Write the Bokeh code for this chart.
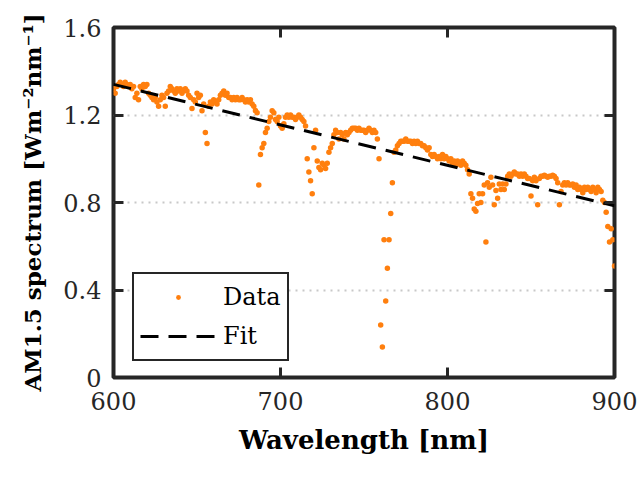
from bokeh.plotting import figure
from bokeh.models import LinearAxis, Range1d, FixedTicker, Legend, LegendItem, ColumnDataSource
from bokeh.embed import file_html
from bokeh.resources import INLINE

wavelength = list(range(600, 901))
spectrum = [
    1.32, 1.30, 1.33, 1.34, 1.35, 1.34, 1.33, 1.35, 1.34, 1.33,
    1.34, 1.32, 1.33, 1.28, 1.30, 1.27, 1.33, 1.32, 1.34, 1.33,
    1.34, 1.30, 1.29, 1.28, 1.27, 1.28, 1.26, 1.24, 1.27, 1.29,
    1.28, 1.24, 1.30, 1.31, 1.33, 1.32, 1.31, 1.30, 1.32, 1.31,
    1.32, 1.30, 1.31, 1.32, 1.31, 1.29, 1.28, 1.23, 1.27, 1.26,
    1.30, 1.28, 1.29, 1.22, 1.25, 1.12, 1.07, 1.24, 1.26, 1.25,
    1.27, 1.26, 1.25, 1.27, 1.29, 1.30, 1.31, 1.29, 1.30, 1.28,
    1.28, 1.27, 1.28, 1.27, 1.28, 1.27, 1.27, 1.28, 1.27, 1.26,
    1.27, 1.26, 1.27, 1.25, 1.24, 1.22, 1.21, 0.88, 1.02, 1.05,
    1.07, 1.12, 1.14, 1.17, 1.19, 1.22, 1.21, 1.18, 1.17, 1.19,
    1.15, 1.14, 1.16, 1.19, 1.20, 1.19, 1.20, 1.19, 1.19, 1.18,
    1.19, 1.20, 1.19, 1.18, 1.17, 1.15, 1.00, 0.94, 0.90, 0.84,
    1.05, 1.13, 0.99, 0.96, 0.95, 0.98, 0.97, 0.955, 0.98, 1.03,
    1.05, 1.07, 1.11, 1.13, 1.12, 1.09, 1.12, 1.11, 1.09, 1.12,
    1.11, 1.12, 1.13, 1.14, 1.14, 1.14, 1.13, 1.14, 1.13, 1.13,
    1.13, 1.12, 1.13, 1.14, 1.13, 1.12, 1.13, 1.12, 1.09, 1.00,
    0.24, 0.14, 0.63, 0.35, 0.50, 0.63, 0.75, 0.89, 1.03, 1.04,
    1.06, 1.07, 1.08, 1.08, 1.08, 1.09, 1.08, 1.08, 1.08, 1.07,
    1.08, 1.07, 1.08, 1.07, 1.07, 1.06, 1.06, 1.05, 1.04, 1.05,
    1.02, 1.01, 1.02, 1.01, 1.00, 1.01, 1.00, 1.02, 1.00, 1.01,
    1.00, 0.99, 1.00, 0.98, 0.99, 0.97, 0.99, 0.98, 0.97, 0.99,
    0.98, 0.97, 0.95, 0.93, 0.84, 0.82, 0.77, 0.76, 0.795, 0.84,
    0.80, 0.84, 0.88, 0.62, 0.89, 0.87, 0.915, 0.88, 0.79, 0.855,
    0.82, 0.885, 0.86, 0.885, 0.86, 0.885, 0.92, 0.93, 0.92, 0.93,
    0.94, 0.93, 0.93, 0.92, 0.93, 0.92, 0.93, 0.92, 0.91, 0.91,
    0.83, 0.90, 0.915, 0.90, 0.79, 0.91, 0.92, 0.92, 0.925, 0.92,
    0.915, 0.92, 0.92, 0.925, 0.92, 0.91, 0.89, 0.79, 0.85, 0.88,
    0.89, 0.88, 0.89, 0.88, 0.88, 0.885, 0.87, 0.88, 0.86, 0.87,
    0.86, 0.845, 0.87, 0.86, 0.87, 0.86, 0.85, 0.87, 0.86, 0.845,
    0.87, 0.86, 0.85, 0.81, 0.80, 0.755, 0.69, 0.62, 0.68, 0.63,
    0.51,
]
fit_x = [600, 900]
fit_y = [1.34, 0.785]

x_ticks = [600, 700, 800, 900]
y_ticks = [0, 0.4, 0.8, 1.2, 1.6]
y_tick_labels = {0: "0", 0.4: "0.4", 0.8: "0.8", 1.2: "1.2", 1.6: "1.6"}

FONT = "DejaVu Serif"
DARK = "#262626"

p = figure(width=639, height=477, x_range=Range1d(600, 900), y_range=Range1d(0, 1.6),
           output_backend="svg", toolbar_location=None,
           min_border_left=113, min_border_right=25, min_border_top=27, min_border_bottom=100)
p.background_fill_color = "white"
p.border_fill_color = "white"
p.outline_line_color = DARK
p.outline_line_width = 4
p.outline_line_alpha = 1

p.xgrid.grid_line_color = None
p.ygrid.grid_line_color = "#c8c8c8"
p.ygrid.grid_line_dash = "2 5"
p.ygrid.grid_line_width = 2
p.ygrid.ticker = FixedTicker(ticks=y_ticks)

def style_axis(ax, ticks):
    ax.ticker = FixedTicker(ticks=ticks)
    ax.axis_line_color = None
    ax.major_tick_in = 10
    ax.major_tick_out = 0
    ax.major_tick_line_width = 3
    ax.major_tick_line_color = DARK
    ax.minor_tick_line_color = None
    ax.major_label_text_font = FONT
    ax.major_label_text_font_size = "24px"
    ax.major_label_text_color = DARK

style_axis(p.xaxis[0], x_ticks)
style_axis(p.yaxis[0], y_ticks)
p.yaxis[0].major_label_overrides = y_tick_labels
p.xaxis[0].major_label_standoff = 14
p.yaxis[0].major_label_standoff = 12

p.xaxis[0].axis_label = "Wavelength [nm]"
p.yaxis[0].axis_label = "AM1.5 spectrum [Wm\u207b\u00b2nm\u207b\u00b9]"
for ax in (p.xaxis[0], p.yaxis[0]):
    ax.axis_label_text_font = FONT
    ax.axis_label_text_font_style = "bold"
    ax.axis_label_text_color = "black"
p.xaxis[0].axis_label_text_font_size = "26px"
p.xaxis[0].axis_label_standoff = 12
p.yaxis[0].axis_label_text_font_size = "23px"
p.yaxis[0].axis_label_standoff = 14

top = LinearAxis()
style_axis(top, x_ticks)
top.major_label_overrides = {t: "" for t in x_ticks}
top.major_label_standoff = 0
p.add_layout(top, "above")
right = LinearAxis()
style_axis(right, y_ticks)
right.major_label_overrides = {t: "" for t in y_ticks}
right.major_label_standoff = 0
p.add_layout(right, "right")

src = ColumnDataSource(data=dict(x=wavelength, y=spectrum))
r_data = p.scatter("x", "y", source=src, size=5.5, fill_color="#ff7f0e", line_color=None)
r_fit = p.line(fit_x, fit_y, line_color="black", line_width=3, line_dash="18 10")

legend = Legend(items=[LegendItem(label="Data", renderers=[r_data]),
                       LegendItem(label="Fit", renderers=[r_fit])],
                location=(19, 16))
legend.glyph_width = 76
legend.glyph_height = 12
legend.label_height = 34
legend.spacing = 5
legend.padding = 6
legend.margin = 0
legend.label_standoff = 7
legend.label_text_font = FONT
legend.label_text_font_size = "24px"
legend.label_text_color = "black"
legend.border_line_color = DARK
legend.border_line_width = 2
legend.border_line_alpha = 1
legend.background_fill_alpha = 1
p.add_layout(legend)

open("out.html", "w").write(file_html(p, INLINE))
